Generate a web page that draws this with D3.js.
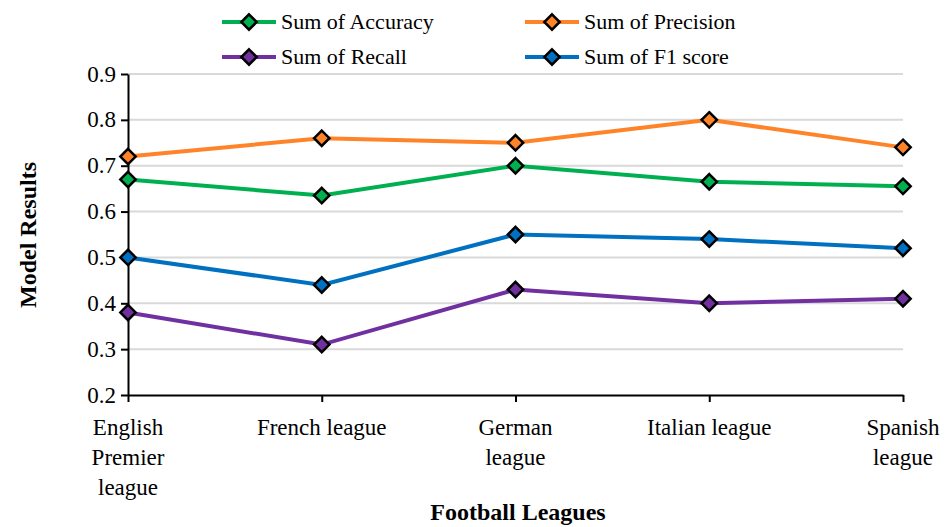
<!DOCTYPE html>
<html>
<head>
<meta charset="utf-8">
<script src="https://cdn.jsdelivr.net/npm/d3@7"></script>
</head>
<body style="margin:0;background:#fff">
<div id="wrap"></div>
<div style="height:1px"></div>
<script>
const leagues = ["English Premier league", "French league", "German league", "Italian league", "Spanish league"];
const labelLines = [["English", "Premier", "league"], ["French league"], ["German", "league"], ["Italian league"], ["Spanish", "league"]];
const accuracy = [0.67, 0.635, 0.70, 0.665, 0.655];
const precision = [0.72, 0.76, 0.75, 0.80, 0.74];
const recall = [0.38, 0.31, 0.43, 0.40, 0.41];
const f1 = [0.50, 0.44, 0.55, 0.54, 0.52];
const yTicks = [0.2, 0.3, 0.4, 0.5, 0.6, 0.7, 0.8, 0.9];

const series = [
  { name: "Sum of Accuracy", values: accuracy, color: "#00B050" },
  { name: "Sum of Precision", values: precision, color: "#FF8429" },
  { name: "Sum of Recall", values: recall, color: "#7030A0" },
  { name: "Sum of F1 score", values: f1, color: "#0070C0" }
];

const FONT = "Liberation Serif";

const svg = d3.select("#wrap").append("svg")
  .attr("width", 952).attr("height", 526)
  .attr("font-family", FONT)
  .style("display", "block");
const margin = { left: 128, right: 49, top: 74, bottom: 131 };
const width = 952 - margin.left - margin.right;
const height = 526 - margin.top - margin.bottom;

const x = d3.scalePoint().domain(leagues).range([0, width]).padding(0);
const y = d3.scaleLinear().domain([0.2, 0.9]).range([height, 0]);

const g = svg.append("g").attr("transform", `translate(${margin.left},${margin.top})`);

// gridlines
g.append("g")
  .selectAll("line")
  .data(yTicks.slice(1))
  .join("line")
  .attr("x1", 0).attr("x2", width)
  .attr("y1", d => y(d)).attr("y2", d => y(d))
  .attr("stroke", "#d9d9d9").attr("stroke-width", 2);

// y axis ticks, labels as plain text
const yAxis = g.append("g")
  .call(d3.axisLeft(y).tickValues(yTicks).tickFormat("").tickSize(7).tickSizeOuter(0));
yAxis.select(".domain").attr("stroke", "#000").attr("stroke-width", 2);
yAxis.selectAll(".tick line").attr("stroke", "#000").attr("stroke-width", 2);

g.selectAll(null)
  .data(yTicks)
  .join("text")
  .attr("x", -12)
  .attr("y", d => y(d))
  .attr("dy", "0.33em")
  .attr("text-anchor", "end")
  .attr("font-family", FONT)
  .attr("font-size", 23)
  .text(d3.format(".1f"));

// x axis
const xAxis = g.append("g")
  .attr("transform", `translate(0,${height})`)
  .call(d3.axisBottom(x).tickSize(7).tickSizeOuter(0).tickFormat(""));
xAxis.select(".domain").attr("stroke", "#000").attr("stroke-width", 2);
xAxis.selectAll(".tick line").attr("stroke", "#000").attr("stroke-width", 2);

leagues.forEach((lg, i) => {
  const t = g.append("text")
    .attr("x", x(lg))
    .attr("y", height + 40)
    .attr("text-anchor", "middle")
    .attr("font-family", FONT)
    .attr("font-size", 23);
  labelLines[i].forEach((ln, j) => {
    t.append("tspan").attr("x", x(lg)).attr("dy", j === 0 ? 0 : 30).text(ln);
  });
});

// lines + diamond markers
const line = d3.line().x((d, i) => x(leagues[i])).y(d => y(d));
const diamond = d3.symbol().type(d3.symbolDiamond2).size(150);

series.forEach(s => {
  g.append("path")
    .datum(s.values)
    .attr("d", line)
    .attr("fill", "none")
    .attr("stroke", s.color)
    .attr("stroke-width", 4);
  g.selectAll(null)
    .data(s.values)
    .join("path")
    .attr("d", diamond)
    .attr("transform", (d, i) => `translate(${x(leagues[i])},${y(d)})`)
    .attr("fill", s.color)
    .attr("stroke", "#000")
    .attr("stroke-width", 2.5);
});

// axis titles
svg.append("text")
  .attr("transform", "translate(36,235) rotate(-90)")
  .attr("text-anchor", "middle")
  .attr("font-family", FONT)
  .attr("font-size", 24)
  .attr("font-weight", "bold")
  .text("Model Results");

svg.append("text")
  .attr("x", 518).attr("y", 520)
  .attr("text-anchor", "middle")
  .attr("font-family", FONT)
  .attr("font-size", 24)
  .attr("font-weight", "bold")
  .text("Football Leagues");

// legend
const legendPos = [[222, 22], [525, 22], [222, 57], [525, 57]];
series.forEach((s, i) => {
  const [lx, ly] = legendPos[i];
  const lgG = svg.append("g").attr("transform", `translate(${lx},${ly})`);
  lgG.append("line").attr("x1", 0).attr("x2", 54).attr("y1", 0).attr("y2", 0)
    .attr("stroke", s.color).attr("stroke-width", 4);
  lgG.append("path").attr("d", diamond).attr("transform", "translate(27,0)")
    .attr("fill", s.color).attr("stroke", "#000").attr("stroke-width", 2.5);
  lgG.append("text").attr("x", 59).attr("y", 0).attr("dy", "0.33em")
    .attr("font-family", FONT)
    .attr("font-size", 22).text(s.name);
});
</script>
</body>
</html>
